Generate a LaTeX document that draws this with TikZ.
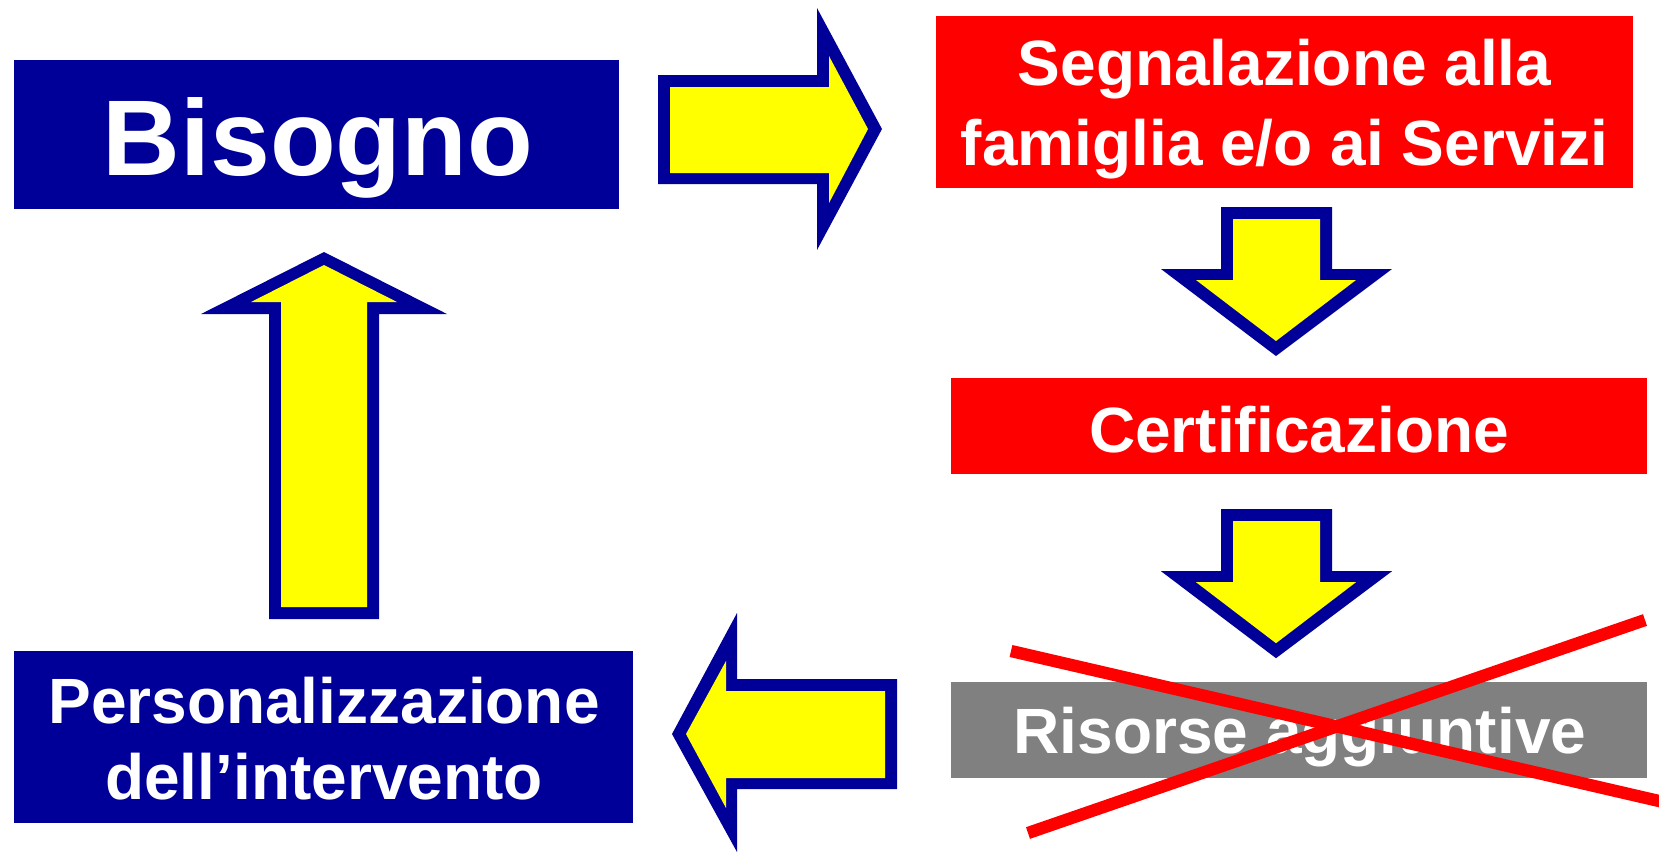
\documentclass[tikz,border=0pt]{standalone}
\usepackage{fontspec}
\setmainfont{Liberation Sans}
\definecolor{navy}{RGB}{0,0,153}
\definecolor{redbox}{RGB}{255,0,0}
\definecolor{greybox}{RGB}{128,128,128}
\definecolor{yel}{RGB}{255,255,0}
\begin{document}
\begin{tikzpicture}[x=0.01cm,y=-0.01cm,
  box/.style={rectangle, inner sep=0pt, draw=none},
  txt/.style={text=white, inner sep=0pt, anchor=base, font=\fontsize{18.2}{22}\selectfont\bfseries},
  bigtxt/.style={txt, font=\fontsize{30.6}{34}\selectfont\bfseries},
  outerarrow/.style={fill=navy},
  innerarrow/.style={fill=yel},
  cross/.style={draw=redbox, line width=3.5pt}
]
\useasboundingbox (0,0) rectangle (1659,853);

% boxes
\node[box, fill=navy, minimum width=6.05cm, minimum height=1.49cm] (bisogno) at (316.5,134.5) {};
\node[box, fill=redbox, minimum width=6.97cm, minimum height=1.72cm] (segnal) at (1284.5,102) {};
\node[box, fill=redbox, minimum width=6.96cm, minimum height=0.96cm] (certif) at (1299,426) {};
\node[box, fill=greybox, minimum width=6.96cm, minimum height=0.96cm] (risorse) at (1299,730) {};
\node[box, fill=navy, minimum width=6.19cm, minimum height=1.72cm] (person) at (323.5,737) {};

% texts
\node[bigtxt] (tbis) at (318,175) {Bisogno};
\node[txt] (tseg1) at (1284.5,85) {Segnalazione alla};
\node[txt] (tseg2) at (1284.5,165) {famiglia e/o ai Servizi};
\node[txt] (tcert) at (1299,452) {Certificazione};
\node[txt] (tris) at (1300,753) {Risorse aggiuntive};
\node[txt] (tper1) at (324,723) {Personalizzazione};
\node[txt] (tper2) at (324,799) {dell’intervento};

% block arrows
% right (Bisogno -> Segnalazione)
\fill[outerarrow] (658,75) -- (817,75) -- (817,8) -- (882,129) -- (817,250) -- (817,184) -- (658,184) -- cycle;
\fill[innerarrow] (670,87) -- (829,87) -- (829,56) -- (868,129) -- (829,203) -- (829,173) -- (670,173) -- cycle;
% down 1 (Segnalazione -> Certificazione)
\fill[outerarrow] (1221,207) -- (1332,207) -- (1332,269) -- (1392,269) -- (1276,356) -- (1161,269) -- (1221,269) -- cycle;
\fill[innerarrow] (1233,219) -- (1320,219) -- (1320,280) -- (1356,280) -- (1276,341) -- (1196,280) -- (1233,280) -- cycle;
% down 2 (Certificazione -> Risorse)
\begin{scope}[yshift=-3.02cm]
\fill[outerarrow] (1221,207) -- (1332,207) -- (1332,269) -- (1392,269) -- (1276,356) -- (1161,269) -- (1221,269) -- cycle;
\fill[innerarrow] (1233,219) -- (1320,219) -- (1320,280) -- (1356,280) -- (1276,341) -- (1196,280) -- (1233,280) -- cycle;
\end{scope}
% left (Risorse -> Personalizzazione)
\fill[outerarrow] (897,679) -- (897,789) -- (737,789) -- (737,852) -- (672,734) -- (737,613) -- (737,679) -- cycle;
\fill[innerarrow] (885,691) -- (885,778) -- (726,778) -- (726,808) -- (686,734) -- (726,661) -- (726,691) -- cycle;
% up (Personalizzazione -> Bisogno)
\fill[outerarrow] (269,619) -- (379,619) -- (379,314) -- (447,314) -- (324,252) -- (201,314) -- (269,314) -- cycle;
\fill[innerarrow] (281,607) -- (367,607) -- (367,302) -- (397,302) -- (324,265) -- (251,302) -- (281,302) -- cycle;

% red cross over Risorse aggiuntive
\coordinate (xa1) at (1011,651);
\coordinate (xa2) at (1672,804);
\coordinate (xb1) at (1028,833);
\coordinate (xb2) at (1645,620);
\draw[cross] (xa1) -- (xa2);
\draw[cross] (xb1) -- (xb2);
\end{tikzpicture}
\end{document}
